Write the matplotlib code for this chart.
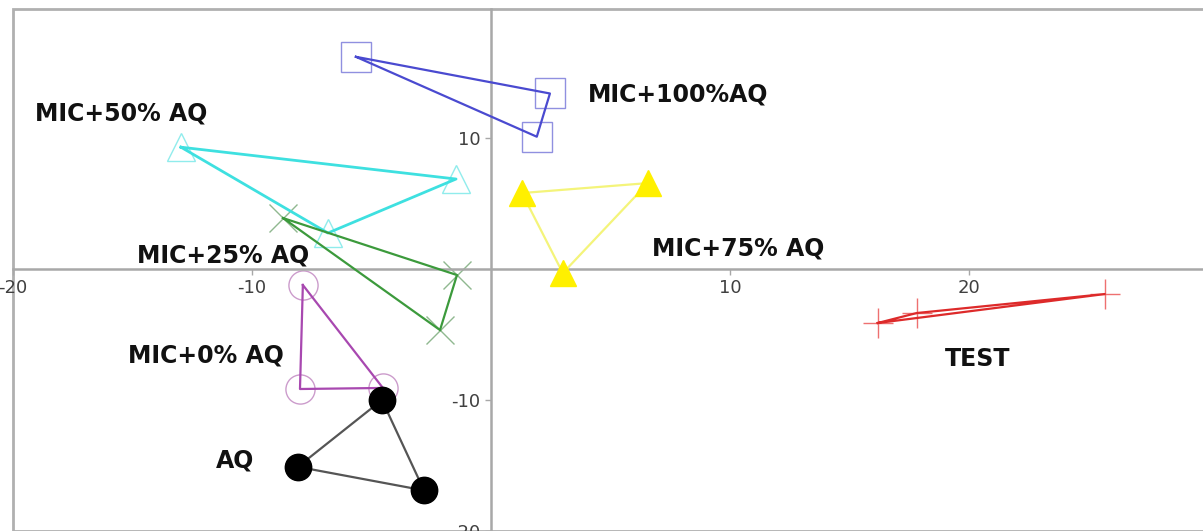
import numpy as np
import matplotlib.pyplot as plt
from matplotlib.patches import Rectangle

plt.rcParams['font.family'] = ['DejaVu Sans']
plt.rcParams['axes.unicode_minus'] = False

# score coordinates (three replicates per group)
groups = ['MIC+100%AQ', 'MIC+50% AQ', 'MIC+25% AQ', 'MIC+75% AQ',
          'MIC+0% AQ', 'AQ', 'TEST']
x_100 = [-5.65, 2.47, 1.92]
y_100 = [16.2, 13.4, 10.1]
x_50 = [-12.97, -1.46, -6.82]
y_50 = [9.3, 6.87, 2.75]
x_25 = [-8.70, -1.42, -2.13]
y_25 = [3.89, -0.46, -4.66]
x_75 = [1.30, 6.57, 3.01]
y_75 = [5.80, 6.56, -0.31]
x_0 = [-7.87, -7.99, -4.52]
y_0 = [-1.22, -9.16, -9.08]
x_aq = [-4.56, -8.08, -2.80]
y_aq = [-10.0, -15.1, -16.9]
x_test = [16.19, 17.82, 25.69]
y_test = [-4.12, -3.36, -1.91]

# label anchor (left, centre) for each group
label_x = [4.06, -19.1, -14.8, 6.76, -15.2, -11.5, 19.0]
label_y = [13.3, 11.9, 1.0, 1.6, -6.6, -14.6, -6.9]

xticks = [-20, -10, 10, 20]
yticks = [-20, -10, 10]

fig = plt.figure(figsize=(12.03, 5.31), dpi=100)
ax = fig.add_axes([13 / 1203, 0.0, 1 - 13 / 1203, 1 - 9 / 531])
ax.set_xlim(-20, 29.8)
ax.set_ylim(-20, 19.85)

for side in ['top', 'right']:
    ax.spines[side].set_visible(False)
ax.spines['left'].set_position(('data', 0))
ax.spines['bottom'].set_position(('data', 0))
for side in ['left', 'bottom']:
    ax.spines[side].set_color('#a8a8a8')
    ax.spines[side].set_linewidth(1.8)
# outer frame; its right side runs off the picture as in the original
ax.add_patch(Rectangle((0, 0), 1.02, 1, transform=ax.transAxes, fill=False,
                       edgecolor='#b0b0b0', linewidth=2, clip_on=False))

ax.set_xticks(xticks)
ax.set_yticks(yticks)
ax.tick_params(colors='#a8a8a8', labelcolor='#404040', labelsize=13,
               length=4, width=1)


def tri(xs, ys, line_col, mk, mk_face, mk_edge, ms, mew=1.0, lw=1.6):
    xs = xs + xs[:1]
    ys = ys + ys[:1]
    ax.plot(xs, ys, color=line_col, lw=lw, zorder=3)
    ax.plot(xs[:-1], ys[:-1], ls='none', marker=mk, ms=ms,
            markerfacecolor=mk_face, markeredgecolor=mk_edge,
            markeredgewidth=mew, zorder=4 if mk_face != 'none' else 2)


tri(x_100, y_100, '#4a4ad0', 's', 'none', '#9090e0', 21)
tri(x_50, y_50, '#3ee0e0', '^', 'none', '#90ecec', 20, lw=2)
tri(x_25, y_25, '#3c9a3c', 'x', 'none', '#90b890', 20)
tri(x_75, y_75, '#f4f47a', '^', '#fff000', '#fff000', 19)
tri(x_0, y_0, '#a848b0', 'o', 'none', '#cc9ccc', 21)
tri(x_aq, y_aq, '#555555', 'o', 'black', 'black', 19)
tri(x_test, y_test, '#dd2a2a', '+', 'none', '#ee7070', 22)

for name, lx, ly in zip(groups, label_x, label_y):
    ax.text(lx, ly, name, fontsize=17, fontweight='bold', color='#111111',
            ha='left', va='center', zorder=5)

fig.savefig('out.png', dpi=100)
